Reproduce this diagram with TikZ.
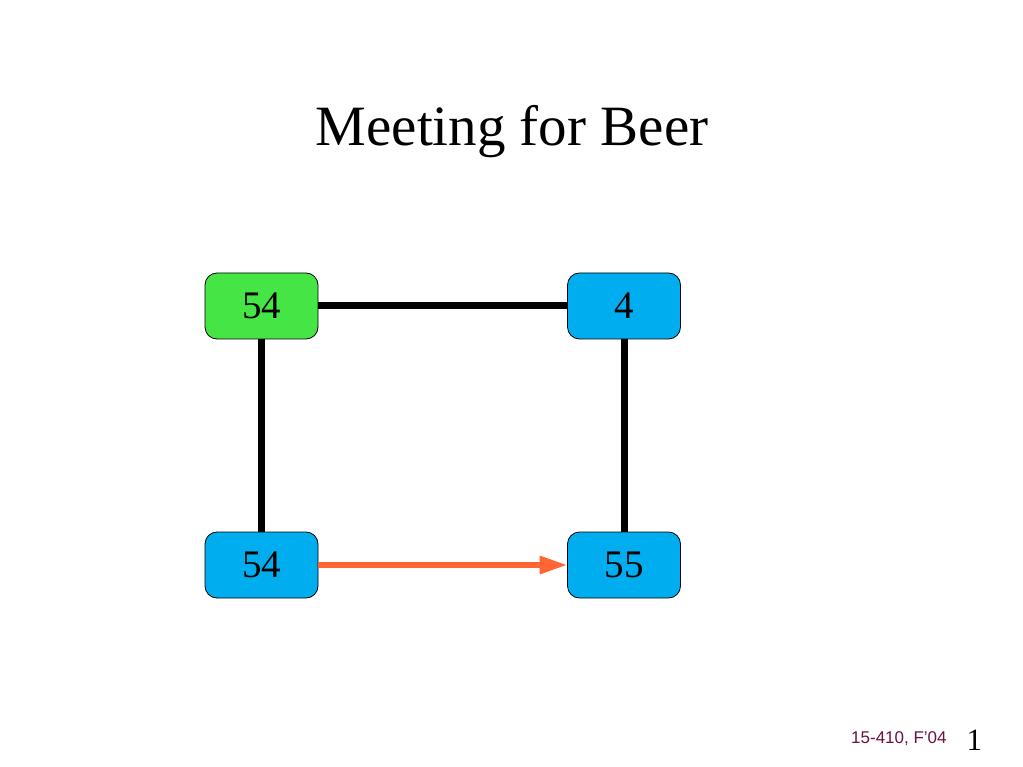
\documentclass[tikz,border=0pt]{standalone}
\usepackage{fontspec}
\setmainfont{Liberation Serif}
\newfontfamily\footsans{Liberation Sans}
\usetikzlibrary{arrows.meta}
\definecolor{nodegreen}{RGB}{68,229,68}
\definecolor{nodeblue}{RGB}{0,174,239}
\definecolor{arroworange}{RGB}{255,102,51}
\definecolor{footmaroon}{RGB}{110,16,64}
\tikzset{
  vbox/.style={draw=black, line width=0.8pt, rounded corners=12pt, minimum width=113pt, minimum height=66pt, inner sep=0pt, font=\fontsize{39}{39}\selectfont},
  greenbox/.style={vbox, fill=nodegreen},
  bluebox/.style={vbox, fill=nodeblue},
  edge/.style={draw=black, line width=7pt},
  msg/.style={draw=arroworange, line width=6pt, -{Triangle[length=28pt,width=17pt]}, shorten >=-0.5pt}
}
\begin{document}
\begin{tikzpicture}[x=1pt,y=-1pt]
\useasboundingbox (0,0) rectangle (1023,767);
\node[anchor=base, font=\fontsize{57}{57}\selectfont] (title) at (512,146) {Meeting for Beer};
\node[greenbox] (a) at (261.5,306) {54};
\node[bluebox] (b) at (624,306) {4};
\node[bluebox] (c) at (261.5,565) {54};
\node[bluebox] (d) at (624,565) {55};
\draw[edge] (a.east) -- (b.west);
\draw[edge] (a.south) -- (c.north);
\draw[edge] (b.south) -- (d.north);
\draw[msg] (c.east) -- (d.west);
\node[anchor=base west, text=footmaroon, font=\footsans\fontsize{17}{17}\selectfont, inner sep=0pt] (foot) at (851,743) {15-410, F’04};
\node[anchor=base west, font=\fontsize{31}{31}\selectfont, inner sep=0pt] (page) at (966.5,750) {1};
\end{tikzpicture}
\end{document}
